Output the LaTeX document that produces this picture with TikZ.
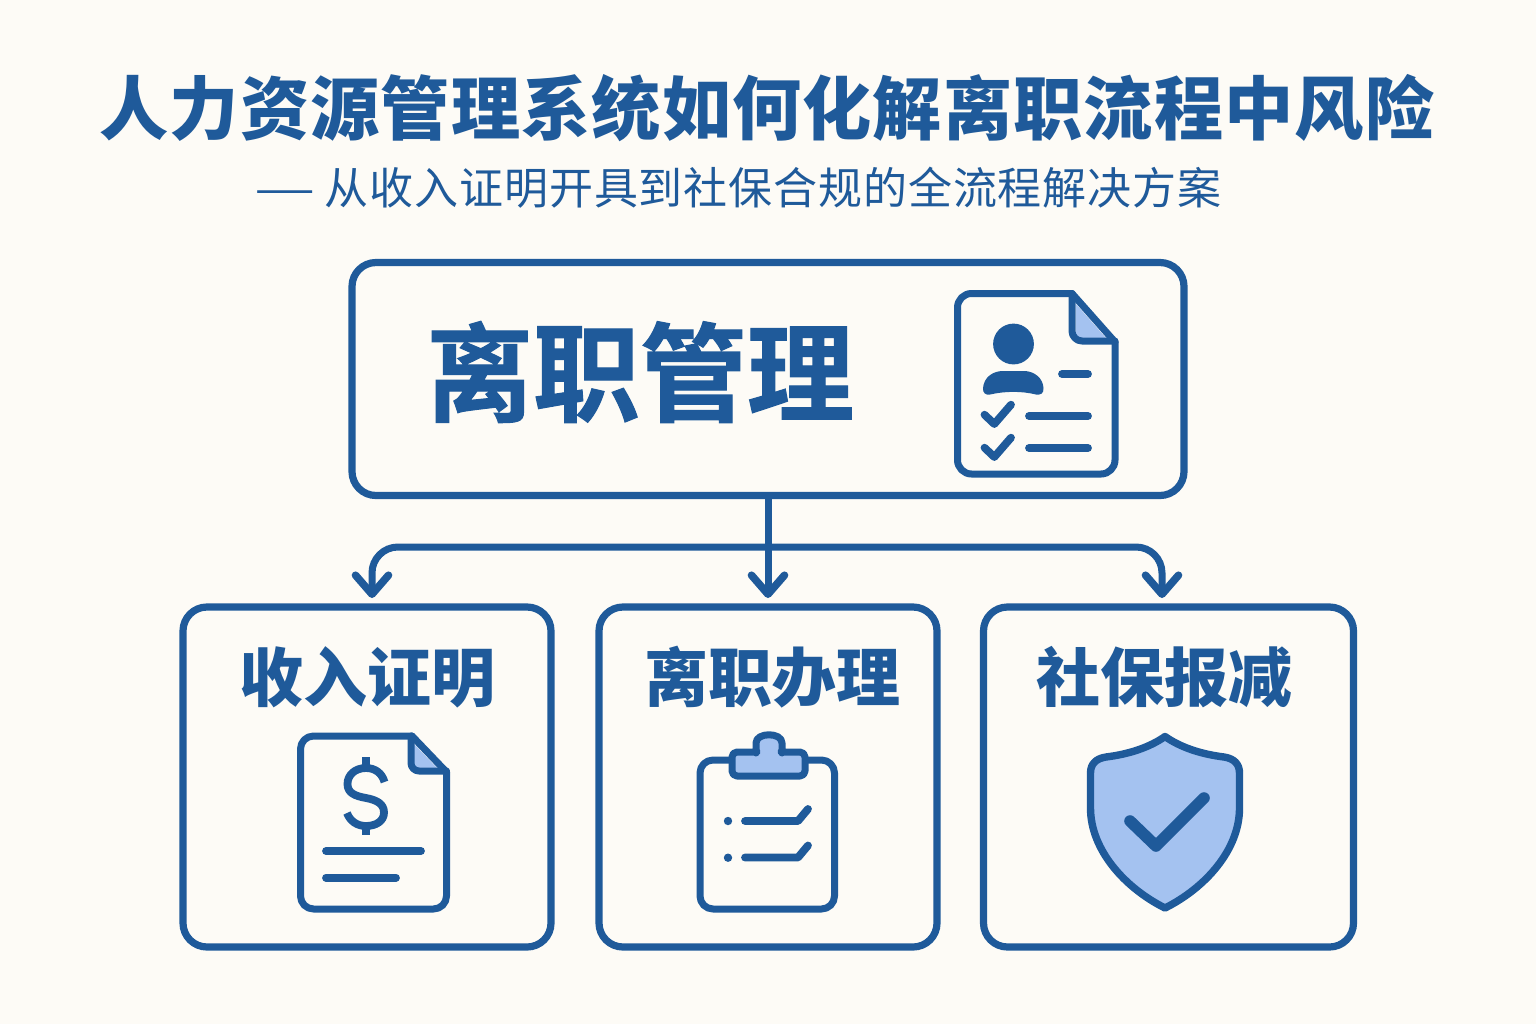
\documentclass[tikz,border=0pt]{standalone}
\usepackage{fontspec}
\usepackage{graphicx}
\usetikzlibrary{arrows.meta}
\newfontfamily\cjk{Noto Sans CJK SC}
\newfontfamily\cjkheavy[FakeBold=1]{Noto Sans CJK SC Bold}
\definecolor{inkblue}{HTML}{1F5A9A}
\definecolor{lightblue}{HTML}{A4C2F0}
\definecolor{paper}{HTML}{FDFBF6}
\newcommand{\fs}[1]{\fontsize{#1}{#1}\selectfont}
\tikzset{
  x=0.5pt,y=-0.5pt,
  panel/.style={draw=inkblue,line width=3.6pt,rounded corners=12pt,inner sep=0pt,fill=paper},
  txt/.style={text=inkblue,inner sep=0pt,anchor=center},
  conn/.style={draw=inkblue,line width=3.5pt,line cap=round},
  tipped/.style={-{Straight Barb[length=9.5pt,width=16.5pt,round,line width=3.8pt]},shorten >=0pt},
  ic/.style={draw=inkblue,line width=3.5pt,line join=round,line cap=round},
  bar/.style={draw=inkblue,line width=3.9pt,line cap=round,line join=round},
}
\begin{document}
\begin{tikzpicture}
\path[use as bounding box,fill=paper] (0,0) rectangle (1536,1024);
% panels
\node[panel,minimum width=416pt,minimum height=116.5pt] (main) at (768,379) {};
\node[panel,minimum width=184pt,minimum height=170pt] (pa) at (367,777) {};
\node[panel,minimum width=169pt,minimum height=170pt] (pb) at (768,777) {};
\node[panel,minimum width=185pt,minimum height=170pt] (pc) at (1168.5,777) {};
% texts
\node[txt] (title) at (767,108) {\cjk\bfseries\fs{34.6pt}\addfontfeature{LetterSpace=1.6}人力资源管理系统如何化解离职流程中风险};
\node[txt,anchor=west] (sub) at (254,188) {\cjk\fs{22pt}\addfontfeature{LetterSpace=2}\scalebox{1.56}[1]{—}\hspace{4.5pt}从收入证明开具到社保合规的全流程解决方案};
\node[txt] (mt) at (640,372) {\cjkheavy\fs{53.5pt}离职管理};
\node[txt] (ta) at (367,677) {\cjk\bfseries\fs{32pt}收入证明};
\node[txt] (tb) at (772,677) {\cjk\bfseries\fs{32pt}离职办理};
\node[txt] (tc) at (1164,677) {\cjk\bfseries\fs{32pt}社保报减};
% connectors
\coordinate (ea) at (372,598);
\coordinate (eb) at (768,598);
\coordinate (ec) at (1162,598);
\coordinate (bus) at (768,547);
\draw[conn,tipped] (main.south) -- (eb);
\draw[conn,tipped,rounded corners=13pt] (bus) -| (ea);
\draw[conn,tipped,rounded corners=13pt] (bus) -| (ec);
% icon: resume
\draw[ic,rounded corners=7pt] (1072,293.5) -- (957.5,293.5) -- (957.5,474) -- (1115,474) -- (1115,342);
\draw[ic] (1072,293.5) -- (1115,342);
\fill[lightblue] (1076,304) -- (1106,338) -- (1076,338) -- cycle;
\draw[ic,rounded corners=5pt] (1072,293.5) -- (1072,341) -- (1115,341);
\fill[inkblue] (1013.5,344) circle[radius=10.2pt];
\fill[inkblue] (983,388) .. controls (984,377) and (993,371) .. (1003,371) -- (1024,371)
  .. controls (1034,371) and (1043,378) .. (1043.5,388) .. controls (1044,394) and (1040,395) .. (1036,394.5)
  .. controls (1022,391) and (1005,391) .. (990,394.5) .. controls (986,395.5) and (982.5,393) .. (983,388) -- cycle;
\draw[bar] (1062,374) -- (1088,374);
\draw[bar] (1029,416) -- (1088,416);
\draw[bar] (1029,448) -- (1088,448);
\draw[bar] (984.5,414.7) -- (994.3,424) -- (1011,404.7);
\draw[bar] (984.5,447.7) -- (994.3,457) -- (1011,437.7);
% icon: income document
\draw[ic,rounded corners=6.5pt] (412,736) -- (300.5,736) -- (300.5,909) -- (446.5,909) -- (446.5,772);
\draw[ic] (412,736) -- (446.5,772);
\fill[lightblue] (414,744) -- (439,770) -- (414,770) -- cycle;
\draw[ic,rounded corners=4pt] (411,736) -- (411,771) -- (446.5,771);
\draw[bar,line cap=butt] (366,757) -- (366,769);
\draw[bar,line cap=butt] (366,825) -- (366,835);
\draw[bar,line cap=butt] (384.5,782) .. controls (382,773) and (375,768) .. (366,768)
  .. controls (355,768) and (347.5,775) .. (347.5,784)
  .. controls (347.5,793) and (355,796) .. (366,798)
  .. controls (377,800) and (384,804) .. (384,812.5)
  .. controls (384,821) and (376,826) .. (366,826)
  .. controls (357,826) and (350,821) .. (347,813);
\draw[bar] (326,851) -- (421,851);
\draw[bar] (326,877.7) -- (396,877.7);
% icon: clipboard
\draw[ic,rounded corners=6.5pt] (730,760) -- (700,760) -- (700,909) -- (834.5,909) -- (834.5,760) -- (806,760);
\draw[ic,fill=lightblue,rounded corners=2.5pt] (732,752) -- (752,752) .. controls (757,752) and (756,749) .. (756,748)
  .. controls (756,732) and (782,732) .. (782,748) .. controls (782,749) and (781,752) .. (786,752)
  -- (805,752) -- (805,776) -- (732,776) -- cycle;
\fill[inkblue] (728,821) circle[radius=2.1pt];
\fill[inkblue] (728,857.7) circle[radius=2.1pt];
\draw[bar] (745,821) -- (798,821) -- (808,809);
\draw[bar] (745,857.5) -- (798,857.5) -- (808,845.5);
% icon: shield
\draw[ic,line width=3.7pt,fill=lightblue] (1165,736.5) .. controls (1180,747) and (1200,754) .. (1224,757)
  .. controls (1234,758.5) and (1239.5,764) .. (1239.5,773) -- (1239.5,808)
  .. controls (1239.5,850) and (1205,888) .. (1165,908)
  .. controls (1125,888) and (1090.5,850) .. (1090.5,808) -- (1090.5,773)
  .. controls (1090.5,764) and (1096,758.5) .. (1106,757)
  .. controls (1130,754) and (1150,747) .. (1165,736.5) -- cycle;
\draw[inkblue,line width=5.8pt,line cap=round,line join=round] (1130,821) -- (1156,846) -- (1204,798);
\end{tikzpicture}
\end{document}
